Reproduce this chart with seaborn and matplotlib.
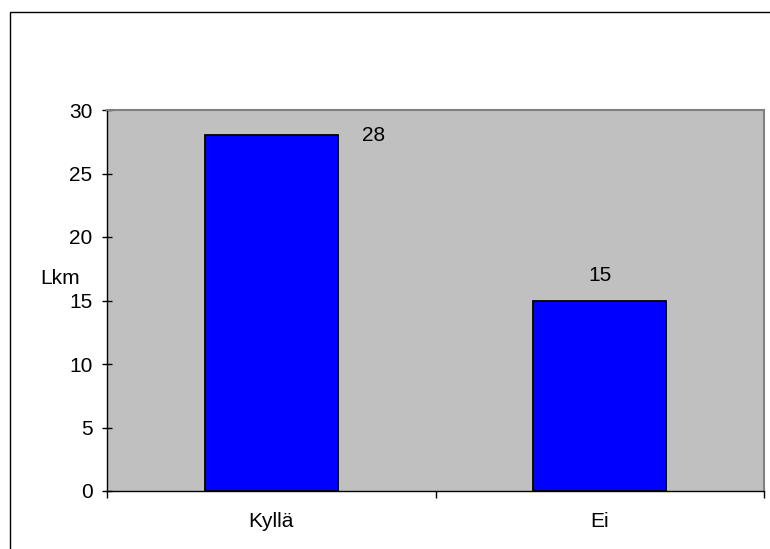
import matplotlib
matplotlib.use("Agg")
import matplotlib.pyplot as plt
import matplotlib.patches as mpatches
import seaborn as sns
import pandas as pd

categories = ["Kyllä", "Ei"]
counts = [28, 15]
y_ticks = [0, 5, 10, 15, 20, 25, 30]

sns.set_theme(style="white")
plt.rcParams["font.family"] = ["Liberation Sans", "DejaVu Sans"]

FS = 15

df = pd.DataFrame({"vastaus": categories, "lkm": counts})

fig = plt.figure(figsize=(7.7, 5.49), dpi=100)
fig.patch.set_facecolor("white")
ax = fig.add_axes([107 / 770, 58 / 549, 657 / 770, 381 / 549])
ax.set_facecolor("#C0C0C0")

sns.barplot(data=df, x="vastaus", y="lkm", color="#0000FF", saturation=1,
            width=0.405, edgecolor="black", linewidth=1.3, ax=ax)

ax.set_xlim(-0.5, len(categories) - 0.5)
ax.set_ylim(0, 30)
ax.set_yticks(y_ticks)
ax.set_yticklabels([str(t) for t in y_ticks], fontsize=FS, color="black")
ax.tick_params(axis="y", direction="inout", length=7, width=1, color="black", pad=7, left=True)

# category labels centred, tick marks between categories
ax.set_xticks(range(len(categories)))
ax.set_xticklabels(categories, fontsize=FS, color="black")
ax.set_xticks([i - 0.5 for i in range(len(categories) + 1)], minor=True)
ax.tick_params(axis="x", which="major", length=0, pad=15)
ax.tick_params(axis="x", which="minor", direction="out", length=5, width=1, color="black", bottom=True)

ax.set_xlabel("")
ax.set_ylabel("Lkm", rotation=0, fontsize=FS, color="black", va="center", ha="center")
ax.yaxis.set_label_coords(-0.072, 0.559)

for side in ["left", "bottom"]:
    ax.spines[side].set_visible(True)
    ax.spines[side].set_color("black")
    ax.spines[side].set_linewidth(1)
for side in ["top", "right"]:
    ax.spines[side].set_visible(True)
    ax.spines[side].set_color("#808080")
    ax.spines[side].set_linewidth(1.5)

# value labels
ax.text(0 + 0.31, counts[0], str(counts[0]), ha="center", va="center", fontsize=FS, color="black")
ax.text(1, counts[1] + 2.0, str(counts[1]), ha="center", va="center", fontsize=FS, color="black")

# chart area frame
frame = mpatches.Rectangle((10 / 770, -0.1), 1.2, 1 - 12 / 549 + 0.1,
                           transform=fig.transFigure, fill=False,
                           edgecolor="black", linewidth=1)
fig.add_artist(frame)

fig.savefig("out.png", dpi=100)
